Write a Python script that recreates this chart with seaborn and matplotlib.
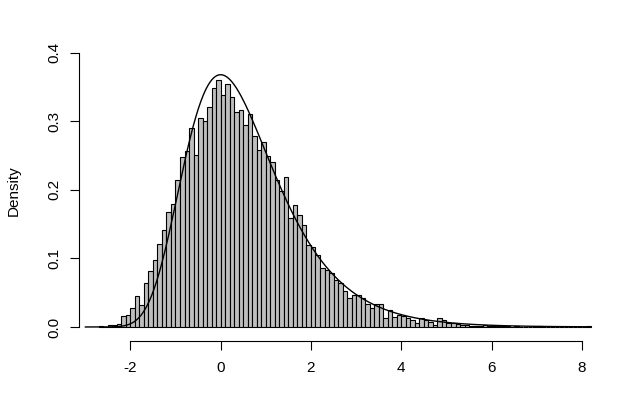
import numpy as np
import pandas as pd
import seaborn as sns
import matplotlib
matplotlib.use("Agg")
import matplotlib.pyplot as plt

# histogram: density per bin, bins of width 0.1 starting at -2.7
bin_start = -2.7
bin_width = 0.1
density = [
    0.0015, 0.0, 0.0024, 0.0024, 0.0044, 0.016, 0.018, 0.027, 0.045, 0.032,   # -2.7 .. -1.8
    0.064, 0.082, 0.098, 0.121, 0.142, 0.167, 0.180, 0.215, 0.248, 0.256,     # -1.7 .. -0.8
    0.290, 0.251, 0.305, 0.301, 0.321, 0.348, 0.360,                         # -0.7 .. -0.1
    0.339, 0.355, 0.336, 0.314, 0.317, 0.295, 0.310, 0.279, 0.258, 0.270,     # 0.0 .. 0.9
    0.250, 0.241, 0.215, 0.198, 0.219, 0.159, 0.178, 0.163, 0.148, 0.119,     # 1.0 .. 1.9
    0.117, 0.105, 0.086, 0.083, 0.078, 0.069, 0.064, 0.052, 0.042, 0.046,     # 2.0 .. 2.9
    0.047, 0.042, 0.034, 0.027, 0.034, 0.033, 0.013, 0.025, 0.015, 0.018,     # 3.0 .. 3.9
    0.016, 0.013, 0.010, 0.006, 0.013, 0.010, 0.007, 0.003, 0.013, 0.010,     # 4.0 .. 4.9
    0.006, 0.006, 0.004, 0.0025, 0.0025, 0.002, 0.001, 0.002, 0.003, 0.001,  # 5.0 .. 5.9
    0.001, 0.002, 0.002, 0.001, 0.0005, 0.001, 0.0005, 0.0005, 0.0, 0.0005,  # 6.0 .. 6.9
    0.0015, 0.0005, 0.0, 0.0, 0.0, 0.0005, 0.0, 0.0, 0.0, 0.0,               # 7.0 .. 7.9
    0.0005, 0.0015,                                                          # 8.0 .. 8.1
]

# overlaid Gumbel density curve
gumbel_loc = 0.0
gumbel_scale = 1.0
curve_from, curve_to = -3.0, 8.2

x_ticks = [-2, 0, 2, 4, 6, 8]
y_ticks = [0.0, 0.1, 0.2, 0.3, 0.4]
y_label = "Density"

edges = [round(bin_start + bin_width * i, 2) for i in range(len(density) + 1)]
df = pd.DataFrame({
    "x": [e + bin_width / 2 for e in edges[:-1]],
    "density": density,
})

xs = np.linspace(curve_from, curve_to, 600)
z = (xs - gumbel_loc) / gumbel_scale
curve = pd.DataFrame({"x": xs, "pdf": np.exp(-(z + np.exp(-z))) / gumbel_scale})

sns.set_theme(style="white")
plt.rcParams["font.family"] = ["Liberation Sans", "DejaVu Sans"]

fig = plt.figure(figsize=(6.3, 4.0), dpi=100)
W, H = 630, 400
ax = fig.add_axes([79 / W, (H - 340.7) / H, (610.7 - 79) / W, (340.7 - 41.7) / H])

sns.histplot(data=df, x="x", weights="density", bins=edges, stat="count",
             color="#BEBEBE", edgecolor="black", linewidth=0.8, alpha=1,
             ax=ax)
sns.lineplot(data=curve, x="x", y="pdf", color="black", linewidth=1.0, ax=ax)

ax.set_xlim(-3.136, 8.636)
ax.set_ylim(-0.02, 0.416)

ax.set_xticks(x_ticks)
ax.set_xticklabels([str(t) for t in x_ticks])
ax.set_yticks(y_ticks)
ax.set_yticklabels([f"{t:.1f}" for t in y_ticks], rotation=90, va="center")

for s in ["top", "right"]:
    ax.spines[s].set_visible(False)
ax.spines["left"].set_bounds(0, 0.4)
ax.spines["bottom"].set_bounds(-2, 8)
for s in ["left", "bottom"]:
    ax.spines[s].set_color("black")
    ax.spines[s].set_linewidth(0.8)

ax.tick_params(axis="both", bottom=True, left=True, direction="out",
               length=6.5, width=0.8, color="black", labelsize=11,
               labelcolor="black")
ax.tick_params(axis="x", pad=8)
ax.tick_params(axis="y", pad=6)
ax.set_xlabel("")
ax.set_ylabel("")
ax.grid(False)

fig.text(14 / W, 1 - 191 / H, y_label, rotation=90, ha="center", va="center",
         fontsize=11, color="black")

fig.savefig("out.png", dpi=100, facecolor="white")
